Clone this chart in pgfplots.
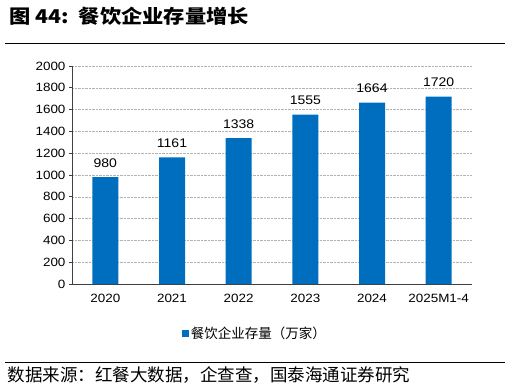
\documentclass[border=0pt]{standalone}
\usepackage{fontspec}
\setmainfont{Liberation Sans}[FakeStretch=1.12]
\newfontfamily\cjk{Noto Sans CJK SC}
\newfontfamily\cjkwide{Noto Sans CJK SC}[FakeStretch=1.12]
\usepackage{pgfplots}
\pgfplotsset{compat=1.18}
\definecolor{barblue}{HTML}{006EBE}
\definecolor{axgray}{HTML}{404040}
\begin{document}
\begin{tikzpicture}
\useasboundingbox (-72pt,-105pt) rectangle (438pt,284pt);
\begin{axis}[
  at={(0pt,0pt)}, anchor=south west,
  scale only axis, width=400pt, height=218pt,
  xmin=-0.5, xmax=5.5, ymin=0, ymax=2000,
  ytick={0,200,...,2000},
  xtick={0,1,2,3,4,5},
  xticklabels={2020,2021,2022,2023,2024,2025M1-4},
  major x tick style={draw=none},
  extra x ticks={-0.5,0.5,1.5,2.5,3.5,4.5,5.5},
  extra x tick labels={},
  extra x tick style={major tick length=4pt, tick style={draw=axgray, thick}, grid=none},
  tick align=outside,
  major tick length=3pt,
  y tick style={draw=axgray, thick},
  axis x line*=bottom, axis y line*=left,
  axis line style={draw=axgray, thick},
  ymajorgrids, grid style={densely dotted, draw=gray!60},
  ticklabel style={font=\fontsize{12}{14}\selectfont, text=black},
  /pgf/number format/assume math mode=true,
  /pgf/number format/1000 sep={},
  xticklabel style={yshift=-4pt},
  ybar, bar width=26pt,
  nodes near coords,
  every node near coord/.append style={font=\fontsize{12.5}{14}\selectfont, yshift=6pt},
  legend style={at={(0.457,-0.185)}, anchor=north, draw=none, font=\cjk\fontsize{13.5}{16}\selectfont, inner sep=0pt},
  legend image code/.code={\fill[barblue] (0pt,-3.5pt) rectangle (7pt,3.5pt);},
  clip=false,
]
\addplot[fill=barblue, draw=none] coordinates {(0,980) (1,1161) (2,1338) (3,1555) (4,1664) (5,1720)};
\addlegendentry{餐饮企业存量（万家）}
\end{axis}
\node[anchor=west, font=\cjkwide\bfseries\fontsize{19}{22}\selectfont] at (-66pt,268pt) {图 44:\, 餐饮企业存量增长};
\draw[black, line width=1pt] (-67pt,241pt) -- (433pt,241pt);
\draw[black, line width=0.8pt] (-67pt,-78pt) -- (433pt,-78pt);
\node[anchor=west, font=\cjk\fontsize{17.5}{19}\selectfont] at (-68pt,-91pt) {数据来源：红餐大数据，企查查，国泰海通证券研究};
\end{tikzpicture}
\end{document}
